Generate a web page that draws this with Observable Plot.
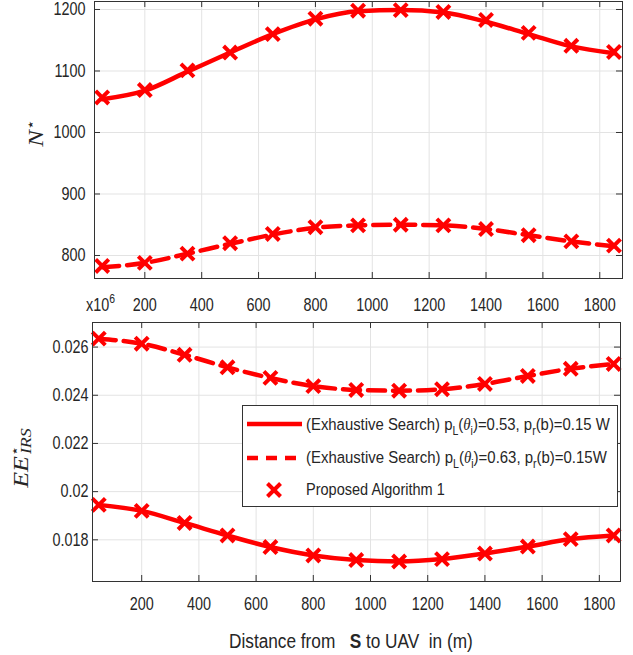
<!DOCTYPE html>
<html><head><meta charset="utf-8">
<script src="https://cdn.jsdelivr.net/npm/d3@7"></script>
<script src="https://cdn.jsdelivr.net/npm/@observablehq/plot@0.6"></script>
<style>
body{margin:0;background:#fff;}
#chart{position:relative;width:633px;height:655px;overflow:hidden;background:#fff;}
#chart svg{position:absolute;left:0;}
</style></head><body><div id="chart"></div>
<script>
// ---- data ----
const distance = [50, 200, 350, 500, 650, 800, 950, 1100, 1250, 1400, 1550, 1700, 1850];
// N* (top panel)
const nExhaustive053 = [1054, 1068, 1099, 1130, 1160, 1184, 1197, 1199, 1195, 1180, 1160, 1140, 1129];
const nExhaustive063 = [781, 788, 803, 819, 834, 845, 849, 850, 849, 843, 833, 823, 815];
const nProposed053 = [1057, 1069, 1101, 1130, 1160, 1185, 1198, 1199, 1196, 1183, 1162, 1141, 1131];
const nProposed063 = [783, 788, 803, 820, 835, 846, 849, 850, 849, 843, 833, 823, 816];
// EE*_IRS (bottom panel)
const eeExhaustive053 = [0.01945, 0.01920, 0.01870, 0.01818, 0.01770, 0.01735, 0.01716, 0.01710, 0.01720, 0.01743, 0.01772, 0.01803, 0.01818];
const eeExhaustive063 = [0.02635, 0.02614, 0.02568, 0.02516, 0.02472, 0.02438, 0.02422, 0.02419, 0.02425, 0.02447, 0.02480, 0.02510, 0.02530];
const eeProposed053 = [0.01945, 0.01920, 0.01870, 0.01818, 0.01770, 0.01735, 0.01716, 0.01710, 0.01720, 0.01743, 0.01772, 0.01803, 0.01818];
const eeProposed063 = [0.02635, 0.02614, 0.02568, 0.02516, 0.02472, 0.02438, 0.02422, 0.02419, 0.02425, 0.02447, 0.02480, 0.02510, 0.02530];
// ticks
const xTickValues = [200, 400, 600, 800, 1000, 1200, 1400, 1600, 1800];
const nTickValues = [800, 900, 1000, 1100, 1200];
const eeTickValues = [0.018, 0.020, 0.022, 0.024, 0.026];
// legend labels
const legendLabels = ["(Exhaustive Search) p_L(θ_i)=0.53, p_r(b)=0.15 W", "(Exhaustive Search) p_L(θ_i)=0.63, p_r(b)=0.15W", "Proposed Algorithm 1"];

const RED = "#ff0000", AX = "#333333", GRID = "#e3e3e3", TXT = "#262626";
const FONT = "'Liberation Sans', Arial, Helvetica, sans-serif";
const rows = (ys) => distance.map((x, i) => ({x, y: ys[i]}));

function panel({top, height, mTop, mBottom, mLeft, mRight, xDomain, yDomain, yTicks, yFmt, yPad, xPad, solid, dashed, markA, markB}) {
  const fw = 633 - mLeft - mRight, fh = height - mTop - mBottom;
  const ty = 6 * (yDomain[1] - yDomain[0]) / fh;
  const tx = 6 * (xDomain[1] - xDomain[0]) / fw;
  const svg = Plot.plot({
    width: 633, height,
    marginTop: mTop, marginBottom: mBottom, marginLeft: mLeft, marginRight: mRight,
    x: {domain: xDomain},
    y: {domain: yDomain},
    style: {fontFamily: FONT, fontSize: "18px", color: TXT, background: "transparent"},
    marks: [
      Plot.gridX(xTickValues, {stroke: GRID, strokeOpacity: 1, strokeWidth: 1}),
      Plot.gridY(yTicks, {stroke: GRID, strokeOpacity: 1, strokeWidth: 1}),
      Plot.ruleX(xTickValues, {x: d => d, y1: yDomain[0], y2: yDomain[0] + ty, stroke: AX}),
      Plot.ruleX(xTickValues, {x: d => d, y1: yDomain[1], y2: yDomain[1] - ty, stroke: AX}),
      Plot.ruleY(yTicks, {y: d => d, x1: xDomain[0], x2: xDomain[0] + tx, stroke: AX}),
      Plot.ruleY(yTicks, {y: d => d, x1: xDomain[1], x2: xDomain[1] - tx, stroke: AX}),
      Plot.line(rows(solid), {x: "x", y: "y", stroke: RED, strokeWidth: 4.5, curve: "monotone-x"}),
      Plot.line(rows(dashed), {x: "x", y: "y", stroke: RED, strokeWidth: 4.5, strokeDasharray: "17,8", curve: "monotone-x"}),
      Plot.dot(rows(markA), {x: "x", y: "y", symbol: "times", r: 6, stroke: RED, strokeWidth: 4}),
      Plot.dot(rows(markB), {x: "x", y: "y", symbol: "times", r: 6, stroke: RED, strokeWidth: 4}),
      Plot.frame({stroke: AX, strokeWidth: 1}),
      Plot.axisX(xTickValues, {tickSize: 0, tickPadding: xPad, label: null, tickFormat: d => String(d), fill: TXT, fontVariant: "normal"}),
      Plot.axisY(yTicks, {tickSize: 0, tickPadding: yPad, label: null, tickFormat: yFmt, fill: TXT, fontVariant: "normal"})
    ]
  });
  svg.style.top = top + "px";
  d3.select(svg).selectAll("text").each(function () {
    const t = this.getAttribute("transform") || "";
    this.setAttribute("transform", t + " scale(0.8,1)");
  });
  return svg;
}

const chart = document.getElementById("chart");
chart.appendChild(panel({
  top: 0, height: 320, mTop: 1, mBottom: 42, mLeft: 94, mRight: 11,
  xDomain: [23, 1880], yDomain: [762.6, 1213], yTicks: nTickValues, yFmt: d => String(d), yPad: 9, xPad: 20,
  solid: nExhaustive053, dashed: nExhaustive063, markA: nProposed053, markB: nProposed063
}));
chart.appendChild(panel({
  top: 300, height: 355, mTop: 22, mBottom: 74, mLeft: 92, mRight: 13,
  xDomain: [28, 1874], yDomain: [0.01627, 0.02702], yTicks: eeTickValues, yFmt: d => String(+d.toFixed(3)), yPad: 4, xPad: 16,
  solid: eeExhaustive053, dashed: eeExhaustive063, markA: eeProposed053, markB: eeProposed063
}));

// ---- overlay: titles, exponent label, legend ----
const ov = d3.create("svg").attr("width", 633).attr("height", 655).style("top", "0px");
chart.appendChild(ov.node());
const serif = "'Liberation Serif', 'DejaVu Serif', serif";

// fit a text horizontally to a target width by scaling x
function fitX(sel, x, y, target) {
  const w = sel.node().getComputedTextLength();
  sel.attr("transform", `translate(${x},${y}) scale(${target / w},1)`);
}

// x10^6
const ex = ov.append("text").attr("transform", "translate(86,311) scale(0.8,1)")
  .attr("fill", TXT).style("font-family", FONT).style("font-size", "18px");
ex.append("tspan").text("x10");
ex.append("tspan").attr("dy", -8).style("font-size", "13px").text("6");

// N*
const nt = ov.append("text").attr("transform", "translate(43,133) scale(0.8,1) rotate(-90)")
  .attr("text-anchor", "middle").attr("fill", TXT).style("font-family", serif).style("font-size", "25px");
nt.append("tspan").style("font-style", "italic").text("N");
nt.append("tspan").attr("dy", -10).style("font-size", "17px").style("font-family", "'DejaVu Sans', sans-serif").text("⋆");

// EE*_IRS
const et = ov.append("text").attr("transform", "translate(28,458) scale(0.8,1) rotate(-90)")
  .attr("text-anchor", "middle").attr("fill", TXT).style("font-family", serif).style("font-size", "26px");
et.append("tspan").style("font-style", "italic").text("EE");
et.append("tspan").attr("dy", -11).style("font-size", "16px").style("font-family", "'DejaVu Sans', sans-serif").text("⋆");
et.append("tspan").attr("dx", -8).attr("dy", 15).style("font-style", "italic").style("font-size", "18px").text("IRS");

// x-axis title
const xt = ov.append("text").attr("fill", TXT)
  .style("font-family", FONT).style("font-size", "20px").style("white-space", "pre");
xt.append("tspan").text("Distance from   ");
xt.append("tspan").style("font-weight", "bold").text("S");
xt.append("tspan").text(" to UAV  in (m)");
fitX(xt, 229, 648, 244);

// legend
const lg = ov.append("g");
lg.append("rect").attr("x", 242.5).attr("y", 405.5).attr("width", 375).attr("height", 101)
  .attr("fill", "#fff").attr("stroke", AX).attr("stroke-width", 1);
lg.append("line").attr("x1", 247).attr("x2", 302).attr("y1", 424).attr("y2", 424).attr("stroke", RED).attr("stroke-width", 4.5);
lg.append("line").attr("x1", 247).attr("x2", 302).attr("y1", 458).attr("y2", 458).attr("stroke", RED).attr("stroke-width", 4.5).attr("stroke-dasharray", "11,8");
lg.append("path").attr("d", d3.symbol(d3.symbolTimes, Math.PI * 36)()).attr("transform", "translate(274,490)")
  .attr("fill", "none").attr("stroke", RED).attr("stroke-width", 4);

function legendText(label, y, len) {
  const t = lg.append("text").attr("fill", TXT)
    .style("font-family", FONT).style("font-size", "17px").style("white-space", "pre");
  const parts = label.split(/(_[A-Za-z])/);
  let sub = false;
  parts.forEach(p => {
    if (!p) return;
    if (p.startsWith("_")) {
      t.append("tspan").attr("dy", 5).style("font-size", "12px").text(p.slice(1));
      sub = true;
    } else {
      p.split(/(θ)/).forEach(s => {
        if (!s) return;
        const ts = t.append("tspan").text(s);
        if (sub) { ts.attr("dy", -5); sub = false; }
        if (s === "θ") ts.style("font-style", "italic").style("font-family", serif);
      });
    }
  });
  fitX(t, 306, y, len);
}
legendText(legendLabels[0], 430, 304);
legendText(legendLabels[1], 463, 301);
legendText(legendLabels[2], 495, 139);
</script></body></html>
